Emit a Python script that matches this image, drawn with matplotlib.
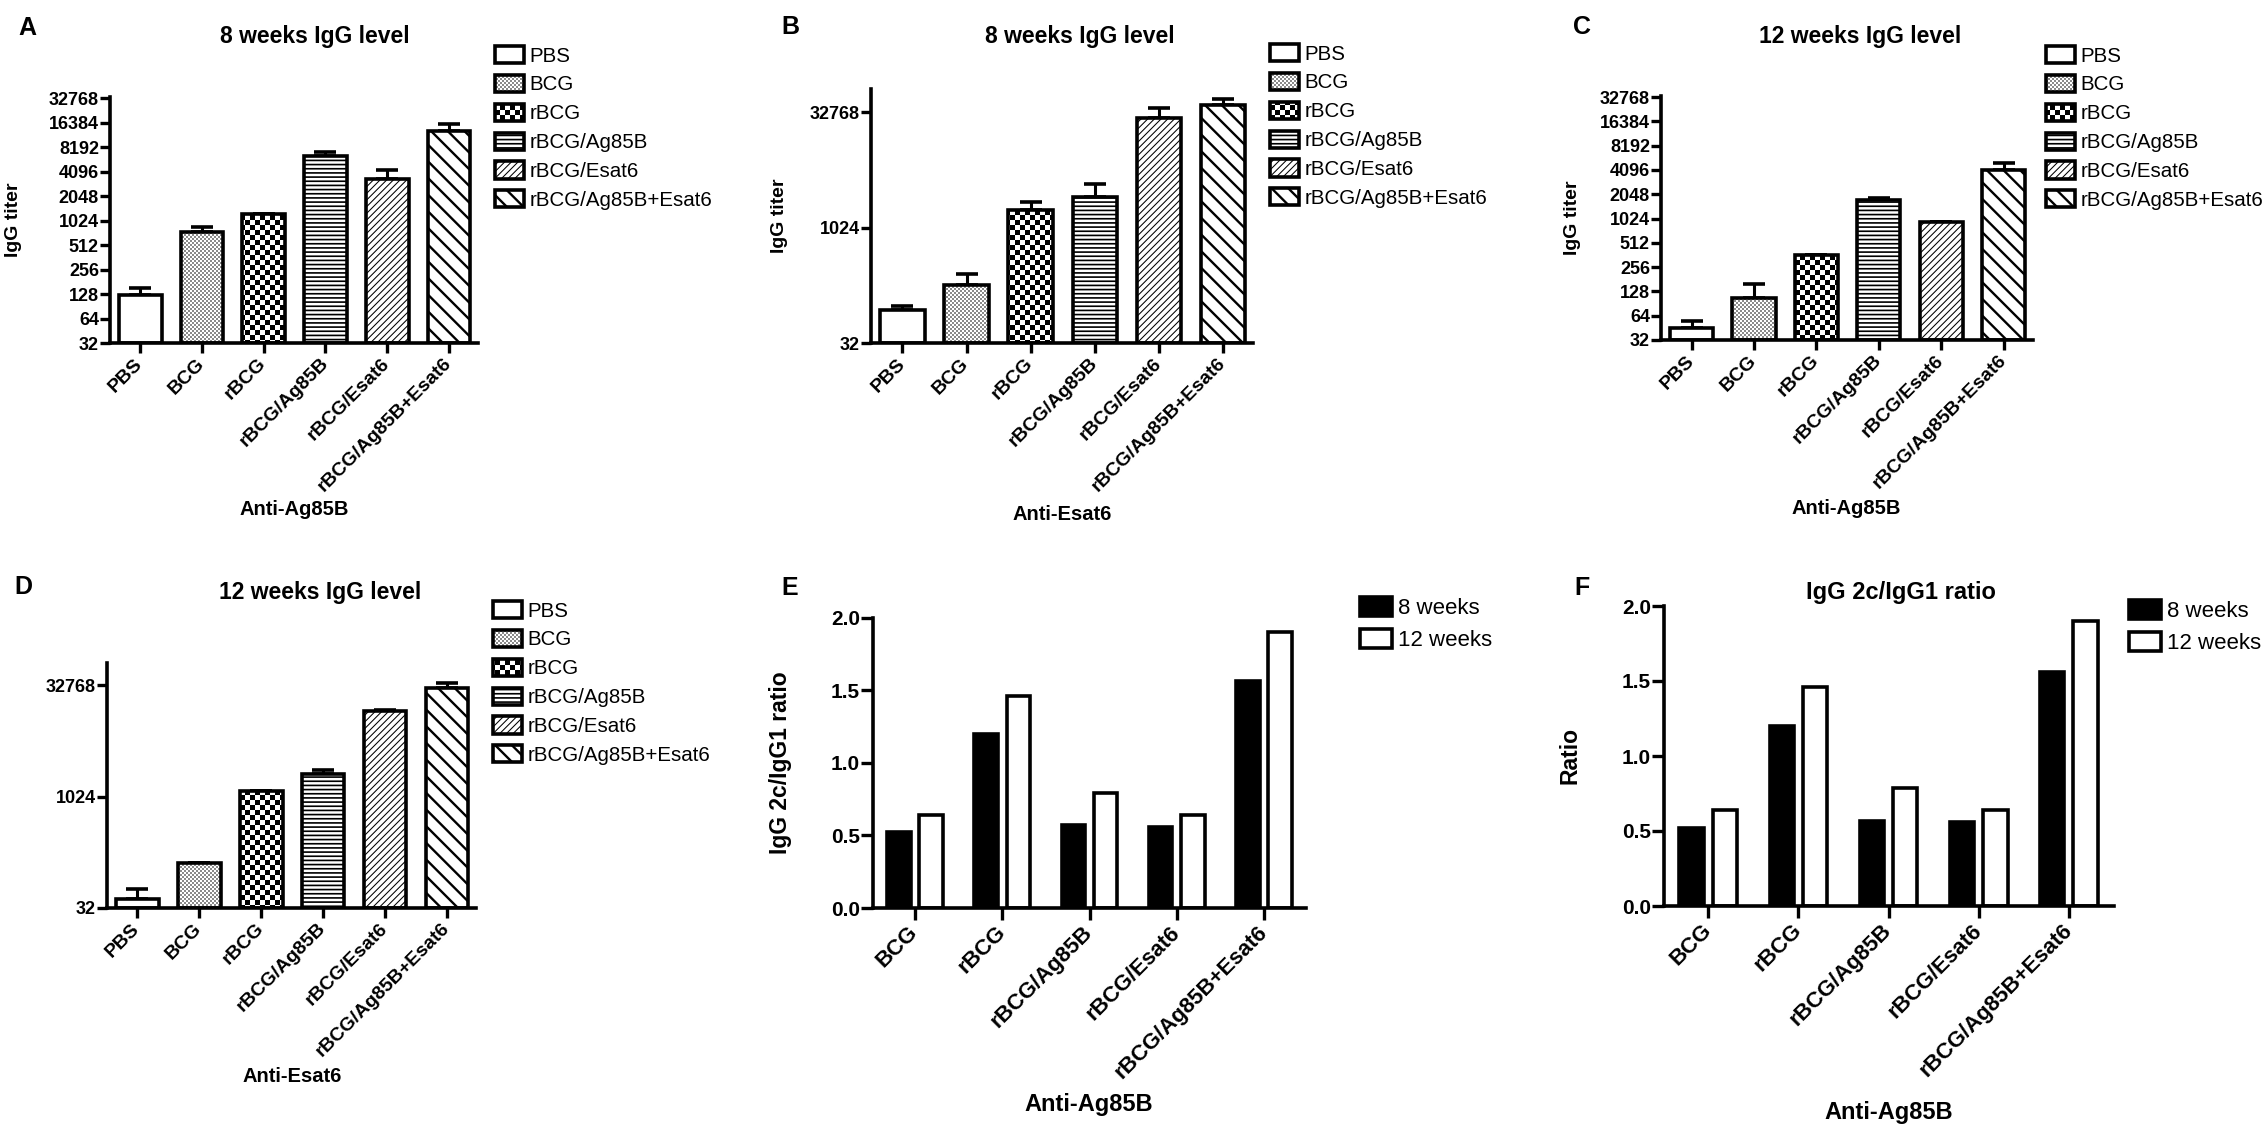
import numpy as np
import matplotlib
matplotlib.use("Agg")
import matplotlib.pyplot as plt
import matplotlib.hatch as mhatch
from matplotlib.path import Path
from matplotlib.legend_handler import HandlerTuple
from matplotlib.ticker import NullLocator, FormatStrFormatter

plt.rcParams['font.family'] = ['Liberation Sans', 'DejaVu Sans']
plt.rcParams['hatch.linewidth'] = 1.0

# Nhóm tiêm chủng
groups = ["PBS", "BCG", "rBCG", "rBCG/Ag85B", "rBCG/Esat6", "rBCG/Ag85B+Esat6"]
ratio_groups = ["BCG", "rBCG", "rBCG/Ag85B", "rBCG/Esat6", "rBCG/Ag85B+Esat6"]

# IgG titer (mean, SEM)
igg_8w_ag85b = [124, 747, 1235, 6300, 3350, 13000]
sem_8w_ag85b = [26, 103, 0, 870, 890, 2800]
igg_8w_esat6 = [87, 183, 1730, 2570, 27700, 40000]
sem_8w_esat6 = [11, 69, 450, 1200, 9100, 8300]
igg_12w_ag85b = [45.5, 107, 360, 1720, 930, 4120]
sem_12w_ag85b = [9.5, 49, 5, 140, 0, 930]
igg_12w_esat6 = [42, 128, 1220, 2048, 14700, 29700]
sem_12w_esat6 = [16, 0, 0, 262, 500, 6000]

# IgG2c/IgG1 ratio
ratio_8w = [0.52, 1.20, 0.57, 0.56, 1.56]
ratio_12w = [0.64, 1.46, 0.79, 0.64, 1.90]

pow2_ticks = [2 ** k for k in range(5, 16)]
sparse_ticks = [32, 1024, 32768]


class CheckerHatch(mhatch.HatchPatternBase):
    """Checkerboard fill (GraphPad style), triggered by 'O' in the hatch string."""
    def __init__(self, hatch, density):
        self.cells = hatch.count('O') * 10
        self.num_vertices = 5 * (self.cells * self.cells // 2)

    def set_vertices_and_codes(self, vertices, codes):
        n = self.cells
        s = 1.0 / n
        k = 0
        for i in range(n):
            for j in range(n):
                if (i + j) % 2:
                    continue
                x0, y0 = i * s, j * s
                vertices[k:k + 5] = [(x0, y0), (x0 + s, y0), (x0 + s, y0 + s),
                                     (x0, y0 + s), (x0, y0)]
                codes[k] = Path.MOVETO
                codes[k + 1:k + 4] = Path.LINETO
                codes[k + 4] = Path.CLOSEPOLY
                k += 5


mhatch._hatch_types.remove(mhatch.LargeCircles)
mhatch._hatch_types.append(CheckerHatch)

# (hatch, hatch colour, hatch linewidth) for each group
styles = [
    (None, 'black', 0.0),
    ('OOOOO', '#8a8a8a', 0.0),
    ('OO', 'black', 0.0),
    ('----', 'black', 1.2),
    ('/////', 'black', 0.75),
    ('\\\\', 'black', 1.7),
]

W, H = 2268, 1135
fig = plt.figure(figsize=(W / 100, H / 100), dpi=100)


def px_box(left, right, top, bottom):
    return [left / W, 1 - bottom / H, (right - left) / W, (bottom - top) / H]


def fxy(x, y):
    return (x / W, 1 - y / H)


def set_hlw(p, lw):
    if hasattr(p, 'set_hatch_linewidth'):
        p.set_hatch_linewidth(lw)


def style_axes(ax):
    for s in ['top', 'right']:
        ax.spines[s].set_visible(False)
    for s in ['left', 'bottom']:
        ax.spines[s].set_linewidth(2.6)
    ax.tick_params(width=2.4, length=7, direction='out', colors='black')
    ax.tick_params(axis='y', pad=1)


def titer_panel(rect, ytop, means, sems, yticks, title, title_xy, xlab, xlab_xy,
                ylab_x, leg_xy, letter, letter_xy):
    ax = fig.add_axes(px_box(*rect))
    x = np.arange(len(groups))
    means = np.asarray(means, dtype=float)
    sems = np.asarray(sems, dtype=float)
    ax.errorbar(x, means, yerr=[np.zeros_like(sems), sems], fmt='none',
                ecolor='black', elinewidth=2.2, capsize=8, capthick=2.6, zorder=1)
    handles = []
    for i, (hatch, hcol, hlw) in enumerate(styles):
        fill = ax.bar(x[i], means[i] - 32, bottom=32, width=0.69, color='white',
                      edgecolor=hcol, hatch=hatch, linewidth=0, zorder=2)[0]
        set_hlw(fill, hlw)
        edge = ax.bar(x[i], means[i] - 32, bottom=32, width=0.69, facecolor='none',
                      edgecolor='black', linewidth=2.6, zorder=3)[0]
        handles.append((fill, edge))
    ax.set_yscale('log', base=2)
    ax.set_ylim(32, ytop)
    ax.set_xlim(-0.49, 5.47)
    ax.set_yticks(yticks)
    ax.set_yticklabels([str(t) for t in yticks], fontsize=13, fontweight='bold')
    ax.yaxis.set_minor_locator(NullLocator())
    ax.set_xticks(x)
    ax.set_xticklabels(groups, rotation=45, ha='right', va='center',
                       rotation_mode='anchor', fontsize=14, fontweight='bold')
    style_axes(ax)
    ax.tick_params(axis='x', pad=6)
    if ylab_x is not None:
        ax.set_ylabel("IgG titer", fontsize=14, fontweight='bold')
        ax.yaxis.set_label_coords((ylab_x - rect[0]) / (rect[1] - rect[0]), 0.5)
    fig.text(*fxy(*title_xy), title, ha='center', va='center', fontsize=16.5, fontweight='bold')
    fig.text(*fxy(*xlab_xy), xlab, ha='center', va='center', fontsize=14.5, fontweight='bold')
    fig.text(*fxy(*letter_xy), letter, ha='center', va='center', fontsize=18, fontweight='bold')
    leg = fig.legend(handles, groups, handler_map={tuple: HandlerTuple(ndivide=1)},
                     loc='upper left', bbox_to_anchor=fxy(*leg_xy),
                     bbox_transform=fig.transFigure, frameon=False, fontsize=14.8,
                     handlelength=1.42, handleheight=0.9, handletextpad=0.25,
                     labelspacing=0.45, borderpad=0, borderaxespad=0)
    for h, (hatch, hcol, hlw) in zip(leg.legend_handles, styles):
        set_hlw(h, hlw)
    return ax


def ratio_panel(rect, xlim, title, title_xy, xlab_xy, ylab, ylab_x, leg_xy, letter, letter_xy):
    ax = fig.add_axes(px_box(*rect))
    x = np.arange(len(ratio_groups))
    b8 = ax.bar(x - 0.185, ratio_8w, width=0.27, color='black', edgecolor='black',
                linewidth=2.6, label="8 weeks")
    b12 = ax.bar(x + 0.185, ratio_12w, width=0.27, color='white', edgecolor='black',
                 linewidth=2.6, label="12 weeks")
    ax.set_ylim(0, 2.0)
    ax.set_xlim(*xlim)
    ax.set_yticks([0, 0.5, 1.0, 1.5, 2.0])
    ax.yaxis.set_major_formatter(FormatStrFormatter('%.1f'))
    for t in ax.get_yticklabels():
        t.set_fontsize(15)
        t.set_fontweight('bold')
    ax.set_xticks(x)
    ax.set_xticklabels(ratio_groups, rotation=45, ha='right', va='center',
                       rotation_mode='anchor', fontsize=16, fontweight='bold')
    style_axes(ax)
    ax.tick_params(length=8.5)
    ax.tick_params(axis='x', pad=7)
    ax.set_ylabel(ylab, fontsize=16.5, fontweight='bold')
    ax.yaxis.set_label_coords((ylab_x - rect[0]) / (rect[1] - rect[0]), 0.5)
    if title:
        fig.text(*fxy(*title_xy), title, ha='center', va='center', fontsize=17, fontweight='bold')
    fig.text(*fxy(*xlab_xy), "Anti-Ag85B", ha='center', va='center', fontsize=17, fontweight='bold')
    fig.text(*fxy(*letter_xy), letter, ha='center', va='center', fontsize=18, fontweight='bold')
    fig.legend([b8, b12], ["8 weeks", "12 weeks"], loc='upper left',
               bbox_to_anchor=fxy(*leg_xy), bbox_transform=fig.transFigure,
               frameon=False, fontsize=16, handlelength=1.45, handleheight=0.95,
               handletextpad=0.25, labelspacing=0.45, borderpad=0, borderaxespad=0)
    return ax


# Hàng trên: hiệu giá IgG
titer_panel((110, 478, 96.8, 343), 2 ** 15.05, igg_8w_ag85b, sem_8w_ag85b, pow2_ticks,
            "8 weeks IgG level", (315, 37), "Anti-Ag85B", (294, 510), 22,
            (495, 46), "A", (27, 28))
titer_panel((871, 1253, 89, 343), 2 ** 16, igg_8w_esat6, sem_8w_esat6, sparse_ticks,
            "8 weeks IgG level", (1080, 37), "Anti-Esat6", (1062, 515), 788,
            (1270, 44), "B", (790, 27))
titer_panel((1661, 2033, 95.8, 340), 2 ** 15.05, igg_12w_ag85b, sem_12w_ag85b, pow2_ticks,
            "12 weeks IgG level", (1860, 37), "Anti-Ag85B", (1846, 508), 1581,
            (2046, 46), "C", (1582, 27))
titer_panel((107, 476, 663, 908), 2 ** 16, igg_12w_esat6, sem_12w_esat6, sparse_ticks,
            "12 weeks IgG level", (320, 593), "Anti-Esat6", (292, 1076), None,
            (493, 601), "D", (23, 587))

# Hàng dưới: tỉ lệ IgG2c/IgG1
ratio_panel((873, 1306, 617.5, 908), (-0.48, 4.48), None, None, (1089, 1105),
            "IgG 2c/IgG1 ratio", 792, (1360, 597), "E", (790, 588))
ratio_panel((1664, 2114, 606, 906), (-0.49, 4.5), "IgG 2c/IgG1 ratio", (1901, 593),
            (1889, 1113), "Ratio", 1582, (2129, 600), "F", (1582, 588))

fig.savefig("out.png", dpi=100, facecolor='white')
